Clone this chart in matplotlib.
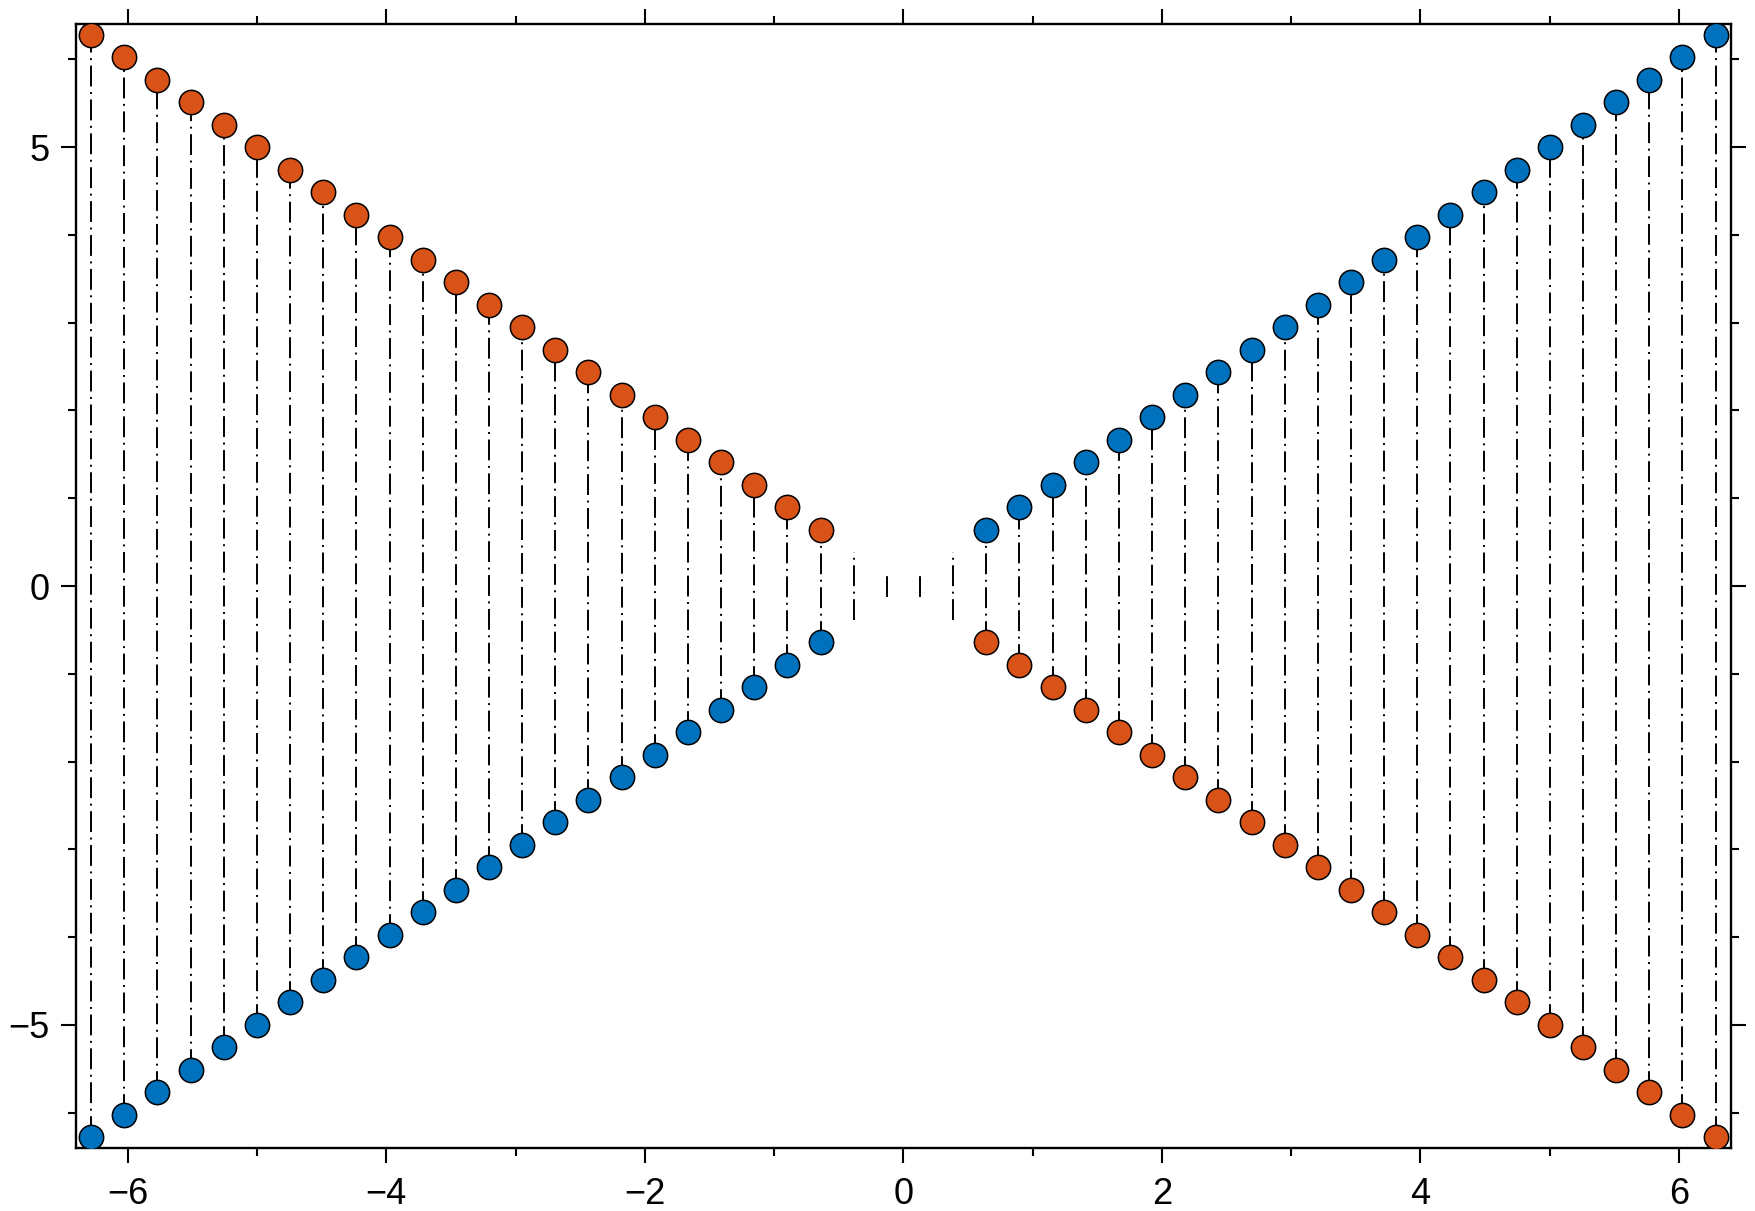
import numpy as np
import matplotlib
matplotlib.use("Agg")
import matplotlib.pyplot as plt
from matplotlib.ticker import MultipleLocator

plt.rcParams['font.family'] = ['Liberation Sans', 'DejaVu Sans']
plt.rcParams['lines.scale_dashes'] = False

# x positions (50 samples across -2pi..2pi)
x_vals = [-6.283, -6.027, -5.770, -5.514, -5.257, -5.001, -4.744, -4.488, -4.232, -3.975,
          -3.719, -3.462, -3.206, -2.949, -2.693, -2.436, -2.180, -1.923, -1.667, -1.411,
          -1.154, -0.898, -0.641, -0.385, -0.128,
          0.128, 0.385, 0.641, 0.898, 1.154, 1.411, 1.667, 1.923, 2.180, 2.436,
          2.693, 2.949, 3.206, 3.462, 3.719, 3.975, 4.232, 4.488, 4.744, 5.001,
          5.257, 5.514, 5.770, 6.027, 6.283]
blue_y = [-6.283, -6.027, -5.770, -5.514, -5.257, -5.001, -4.744, -4.488, -4.232, -3.975,
          -3.719, -3.462, -3.206, -2.949, -2.693, -2.436, -2.180, -1.923, -1.667, -1.411,
          -1.154, -0.898, -0.641, -0.385, -0.128,
          0.128, 0.385, 0.641, 0.898, 1.154, 1.411, 1.667, 1.923, 2.180, 2.436,
          2.693, 2.949, 3.206, 3.462, 3.719, 3.975, 4.232, 4.488, 4.744, 5.001,
          5.257, 5.514, 5.770, 6.027, 6.283]
orange_y = [6.283, 6.027, 5.770, 5.514, 5.257, 5.001, 4.744, 4.488, 4.232, 3.975,
            3.719, 3.462, 3.206, 2.949, 2.693, 2.436, 2.180, 1.923, 1.667, 1.411,
            1.154, 0.898, 0.641, 0.385, 0.128,
            -0.128, -0.385, -0.641, -0.898, -1.154, -1.411, -1.667, -1.923, -2.180, -2.436,
            -2.693, -2.949, -3.206, -3.462, -3.719, -3.975, -4.232, -4.488, -4.744, -5.001,
            -5.257, -5.514, -5.770, -6.027, -6.283]
marker_cut = 0.5   # no symbols drawn closer to zero than this

x = np.array(x_vals)
yb = np.array(blue_y)
yo = np.array(orange_y)
show = np.abs(x) > marker_cut

fig = plt.figure(figsize=(17.56, 12.11), dpi=100)
ax = fig.add_axes([0.0433, 0.0523, 0.9423, 0.9276])

ax.vlines(x, np.minimum(yb, yo), np.maximum(yb, yo), colors='black', linewidth=1.4,
          linestyles=[(0, (15.0, 4.0, 1.4, 4.0))], zorder=2)
ax.plot(x[show], yb[show], 'o', ms=17.5, mfc='#0072BD', mec='black', mew=1.1, zorder=3)
ax.plot(x[show], yo[show], 'o', ms=17.5, mfc='#D95319', mec='black', mew=1.1, zorder=3)

ax.set_xlim(-6.4, 6.4)
ax.set_ylim(-6.4, 6.4)
ax.xaxis.set_major_locator(MultipleLocator(2))
ax.xaxis.set_minor_locator(MultipleLocator(1))
ax.yaxis.set_major_locator(MultipleLocator(5))
ax.yaxis.set_minor_locator(MultipleLocator(1))

ax.tick_params(which='both', direction='out', top=True, right=True, width=1.5)
ax.tick_params(which='major', length=11, labelsize=26)
ax.tick_params(which='minor', length=5.5)
ax.tick_params(axis='x', which='major', pad=10)
ax.tick_params(axis='y', which='major', pad=8)
for s in ax.spines.values():
    s.set_linewidth(1.7)

fig.savefig('out.png', dpi=100)
